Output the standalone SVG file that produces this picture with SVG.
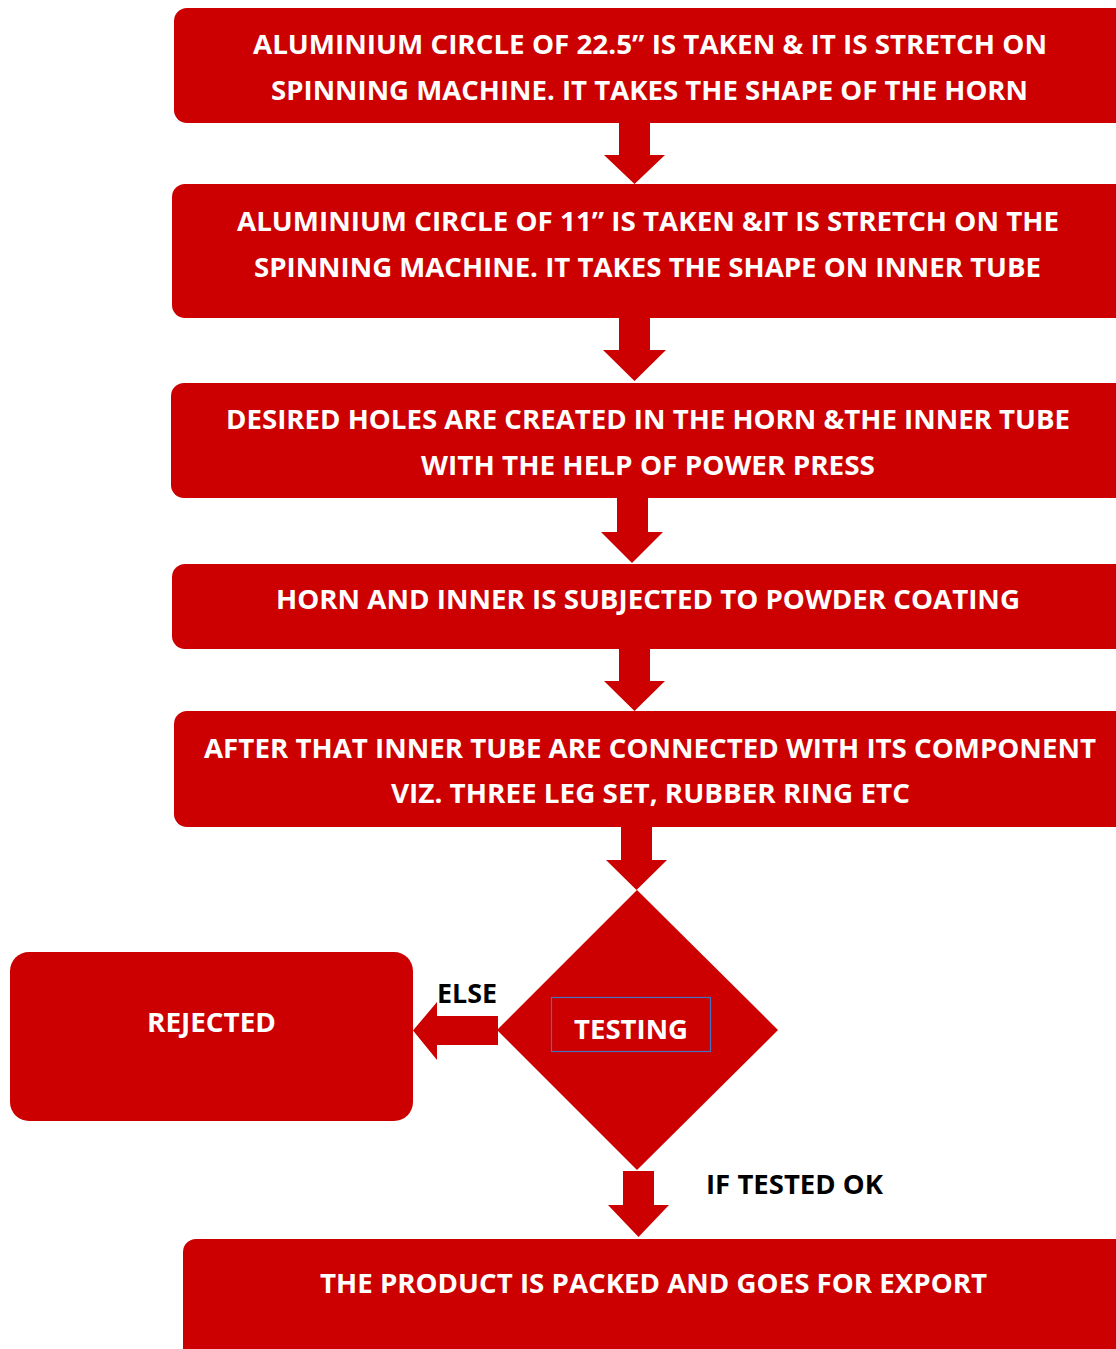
<svg xmlns="http://www.w3.org/2000/svg" width="1116" height="1349" viewBox="0 0 1116 1349">
  <style>
    .box { fill: #CC0000; }
    .arrow { fill: #CC0000; }
    .lbl { font-family: "Open Sans", "Liberation Sans", sans-serif; font-weight: 700; font-size: 27px; fill: #FFFFFF; text-anchor: middle; }
    .note { font-family: "Open Sans", "Liberation Sans", sans-serif; font-weight: 700; font-size: 27px; fill: #000000; text-anchor: middle; }
  </style>
  <rect width="1116" height="1349" fill="#FFFFFF"/>

  <!-- connectors -->
  <g id="connectors">
    <polygon class="arrow" points="619,122 650,122 650,155 665,155 634.5,184 604,155 619,155"/>
    <polygon class="arrow" points="619,317 650,317 650,350 666,350 634.5,381 603,350 619,350"/>
    <polygon class="arrow" points="617,497 648,497 648,532 663,532 632,563 601,532 617,532"/>
    <polygon class="arrow" points="619,648 650,648 650,681 665,681 634.5,711 604,681 619,681"/>
    <polygon class="arrow" points="621,826 652,826 652,860 667,860 636.5,890 606,860 621,860"/>
    <polygon class="arrow" points="498,1016 437,1016 437,1002 413,1030.5 437,1060 437,1045 498,1045"/>
    <polygon class="arrow" points="623,1171 654,1171 654,1205 669,1205 638.5,1237 608,1205 623,1205"/>
  </g>

  <g id="step-horn">
    <rect class="box" x="174" y="8" width="960" height="115" rx="13"/>
    <text class="lbl" x="650" y="54" textLength="794" lengthAdjust="spacingAndGlyphs">ALUMINIUM CIRCLE OF 22.5” IS TAKEN &amp; IT IS STRETCH ON</text>
    <text class="lbl" x="649.5" y="100" textLength="757" lengthAdjust="spacingAndGlyphs">SPINNING MACHINE. IT TAKES THE SHAPE OF THE HORN</text>
  </g>

  <g id="step-inner-tube">
    <rect class="box" x="172" y="184" width="962" height="134" rx="13"/>
    <text class="lbl" x="648" y="231" textLength="822" lengthAdjust="spacingAndGlyphs">ALUMINIUM CIRCLE OF 11” IS TAKEN &amp;IT IS STRETCH ON THE</text>
    <text class="lbl" x="647.5" y="277" textLength="787" lengthAdjust="spacingAndGlyphs">SPINNING MACHINE. IT TAKES THE SHAPE ON INNER TUBE</text>
  </g>

  <g id="step-holes">
    <rect class="box" x="171" y="383" width="963" height="115" rx="13"/>
    <text class="lbl" x="648" y="429" textLength="844" lengthAdjust="spacingAndGlyphs">DESIRED HOLES ARE CREATED IN THE HORN &amp;THE INNER TUBE</text>
    <text class="lbl" x="648" y="475" textLength="454" lengthAdjust="spacingAndGlyphs">WITH THE HELP OF POWER PRESS</text>
  </g>

  <g id="step-coating">
    <rect class="box" x="172" y="564" width="962" height="85" rx="13"/>
    <text class="lbl" x="648" y="609" textLength="744" lengthAdjust="spacingAndGlyphs">HORN AND INNER IS SUBJECTED TO POWDER COATING</text>
  </g>

  <g id="step-assembly">
    <rect class="box" x="174" y="711" width="960" height="116" rx="13"/>
    <text class="lbl" x="650" y="758" textLength="892" lengthAdjust="spacingAndGlyphs">AFTER THAT INNER TUBE ARE CONNECTED WITH ITS COMPONENT</text>
    <text class="lbl" x="650.5" y="803" textLength="519" lengthAdjust="spacingAndGlyphs">VIZ. THREE LEG SET, RUBBER RING ETC</text>
  </g>

  <g id="decision-testing">
    <polygon class="box" points="637,890 778,1030 637,1170 497,1030"/>
    <rect x="551.5" y="997.5" width="159" height="54" fill="none" stroke="#4472C4" stroke-width="1.2"/>
    <text class="lbl" x="631" y="1039" textLength="114" lengthAdjust="spacingAndGlyphs">TESTING</text>
  </g>

  <g id="rejected">
    <rect class="box" x="10" y="952" width="403" height="169" rx="19"/>
    <text class="lbl" x="211.5" y="1032" textLength="129" lengthAdjust="spacingAndGlyphs">REJECTED</text>
  </g>

  <g id="edge-labels">
    <text class="note" x="467" y="1003" textLength="60" lengthAdjust="spacingAndGlyphs">ELSE</text>
    <text class="note" x="794.5" y="1194" textLength="177" lengthAdjust="spacingAndGlyphs">IF TESTED OK</text>
  </g>

  <g id="step-export">
    <rect class="box" x="183" y="1239" width="951" height="130" rx="13"/>
    <text class="lbl" x="653.5" y="1293" textLength="667" lengthAdjust="spacingAndGlyphs">THE PRODUCT IS PACKED AND GOES FOR EXPORT</text>
  </g>
</svg>
